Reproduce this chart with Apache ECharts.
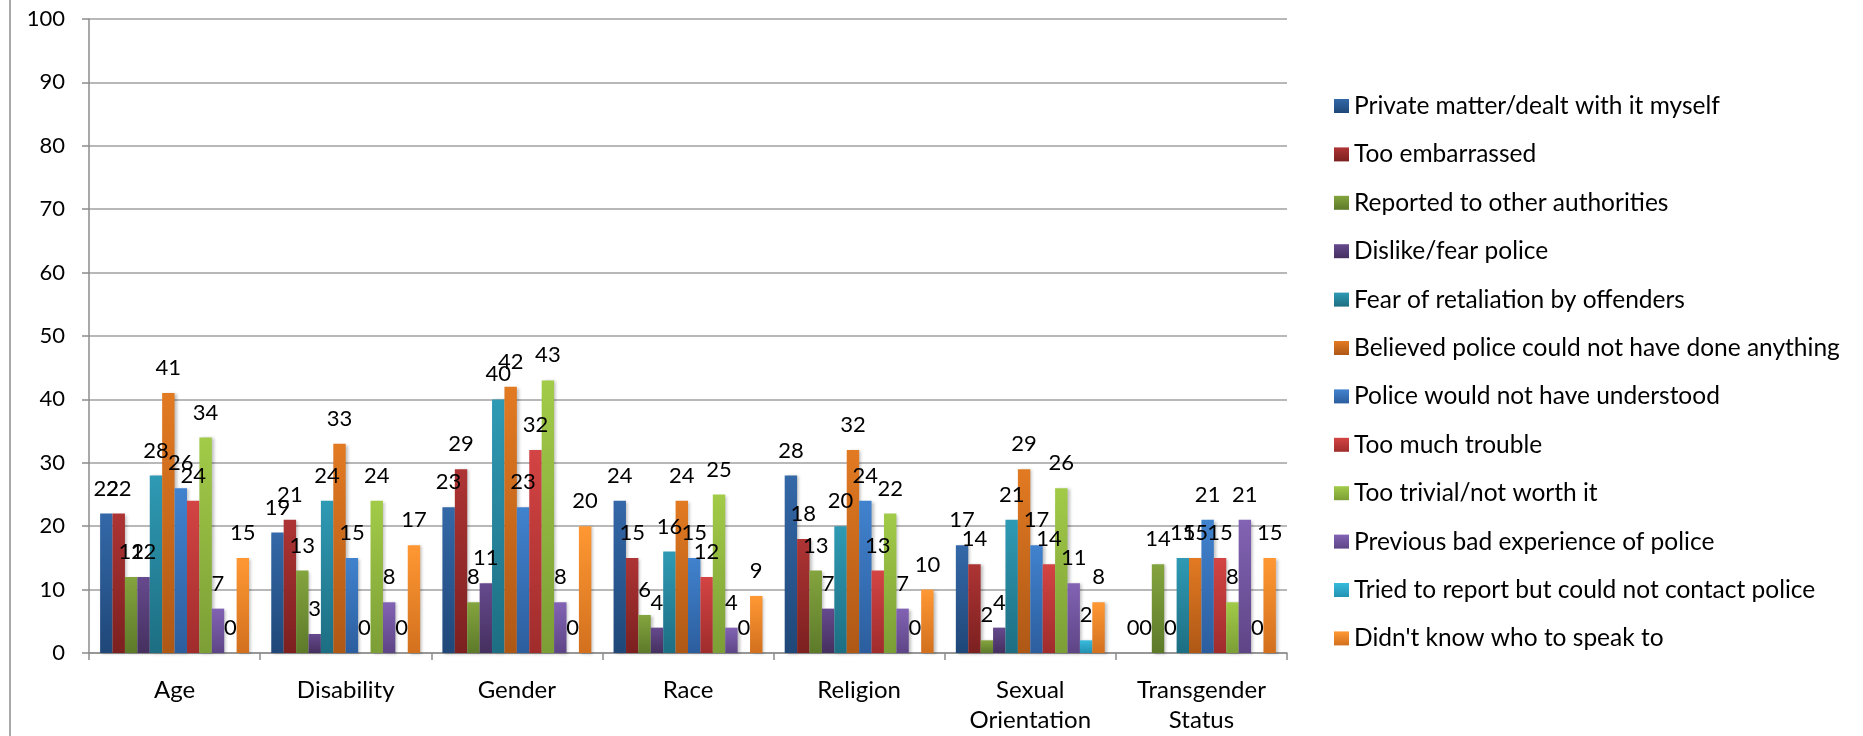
<!DOCTYPE html>
<html>
<head>
<meta charset="utf-8">
<script src="https://cdn.jsdelivr.net/npm/echarts@6/dist/echarts.min.js"></script>
<style>
html,body{margin:0;padding:0;background:#fff;}
#main{width:1863px;height:736px;}
</style>
</head>
<body>
<div id="main"></div>
<script>
const categories = ['Age', 'Disability', 'Gender', 'Race', 'Religion', 'Sexual\nOrientation', 'Transgender\nStatus'];
const seriesNames = [
  'Private matter/dealt with it myself',
  'Too embarrassed',
  'Reported to other authorities',
  'Dislike/fear police',
  'Fear of retaliation by offenders',
  'Believed police could not have done anything',
  'Police would not have understood',
  'Too much trouble',
  'Too trivial/not worth it',
  'Previous bad experience of police',
  'Tried to report but could not contact police',
  "Didn't know who to speak to"
];
const privateMatter    = [22, 19, 23, 24, 28, 17, 0];
const tooEmbarrassed   = [22, 21, 29, 15, 18, 14, 0];
const reportedOther    = [12, 13, 8, 6, 13, 2, 14];
const dislikePolice    = [12, 3, 11, 4, 7, 4, 0];
const fearRetaliation  = [28, 24, 40, 16, 20, 21, 15];
const believedNothing  = [41, 33, 42, 24, 32, 29, 15];
const notUnderstood    = [26, 15, 23, 15, 24, 17, 21];
const tooMuchTrouble   = [24, 0, 32, 12, 13, 14, 15];
const tooTrivial       = [34, 24, 43, 25, 22, 26, 8];
const previousBad      = [7, 8, 8, 4, 7, 11, 21];
const triedToReport    = [0, 0, 0, 0, 0, 2, 0];
const didntKnow        = [15, 17, 20, 9, 10, 8, 15];
const yTicks = [0, 10, 20, 30, 40, 50, 60, 70, 80, 90, 100];

const seriesData = [privateMatter, tooEmbarrassed, reportedOther, dislikePolice, fearRetaliation,
  believedNothing, notUnderstood, tooMuchTrouble, tooTrivial, previousBad, triedToReport, didntKnow];

const palette = [
  ['#3468A8', '#1F4778'],
  ['#AE3434', '#7C2020'],
  ['#84A43E', '#5D7A2A'],
  ['#664A8E', '#45305F'],
  ['#2F9AB4', '#1D6E82'],
  ['#E27A22', '#AE5816'],
  ['#4182CE', '#2C5E9E'],
  ['#D44444', '#A02C2C'],
  ['#A2CB48', '#7C9E36'],
  ['#8263B4', '#5E4586'],
  ['#38BADC', '#2392B2'],
  ['#FF9833', '#D2701E']
];

const FONT = 'Lato, "Open Sans", sans-serif';

const chart = echarts.init(document.getElementById('main'), null, {renderer: 'canvas'});
const series = seriesNames.map((name, i) => ({
  name: name,
  type: 'bar',
  data: seriesData[i],
  barGap: '0%',
  barCategoryGap: '13%',
  itemStyle: {
    color: new echarts.graphic.LinearGradient(0, 0, 0, 1, [
      {offset: 0, color: palette[i][0]},
      {offset: 1, color: palette[i][1]}
    ]),
    shadowColor: 'rgba(0,0,0,0.25)',
    shadowBlur: 3,
    shadowOffsetX: 2,
    shadowOffsetY: 1
  },
  label: {
    show: true,
    position: 'top',
    distance: 14,
    color: '#000',
    fontFamily: FONT,
    fontSize: 22
  }
}));

chart.setOption({
  animation: false,
  backgroundColor: '#fff',
  grid: {left: 89, right: 576, top: 19, bottom: 83, containLabel: false},
  legend: {
    orient: 'vertical',
    left: 1329,
    top: 88,
    icon: 'rect',
    itemWidth: 15,
    itemHeight: 14,
    itemGap: 22.4,
    textStyle: {fontFamily: FONT, fontSize: 24.5, color: '#000', lineHeight: 26},
    data: seriesNames
  },
  xAxis: {
    type: 'category',
    data: categories,
    axisLine: {lineStyle: {color: '#8c8c8c', width: 1.5}},
    axisTick: {show: true, length: 7, lineStyle: {color: '#8c8c8c', width: 1.5}},
    axisLabel: {fontFamily: FONT, fontSize: 24, color: '#000', margin: 22, lineHeight: 30}
  },
  yAxis: {
    type: 'value',
    min: 0,
    max: 100,
    interval: 10,
    axisLine: {show: true, lineStyle: {color: '#8c8c8c', width: 1.5}},
    axisTick: {show: true, length: 7, lineStyle: {color: '#8c8c8c', width: 1.5}},
    splitLine: {show: true, lineStyle: {color: '#a0a0a0', width: 1.5}},
    axisLabel: {
      fontFamily: FONT, fontSize: 22, color: '#000', margin: 24,
      formatter: v => yTicks.includes(v) ? String(v) : ''
    }
  },
  graphic: [{
    type: 'line',
    shape: {x1: 10, y1: 0, x2: 10, y2: 736},
    style: {stroke: '#8c8c8c', lineWidth: 1.5}
  }],
  series: series
});
</script>
</body>
</html>
